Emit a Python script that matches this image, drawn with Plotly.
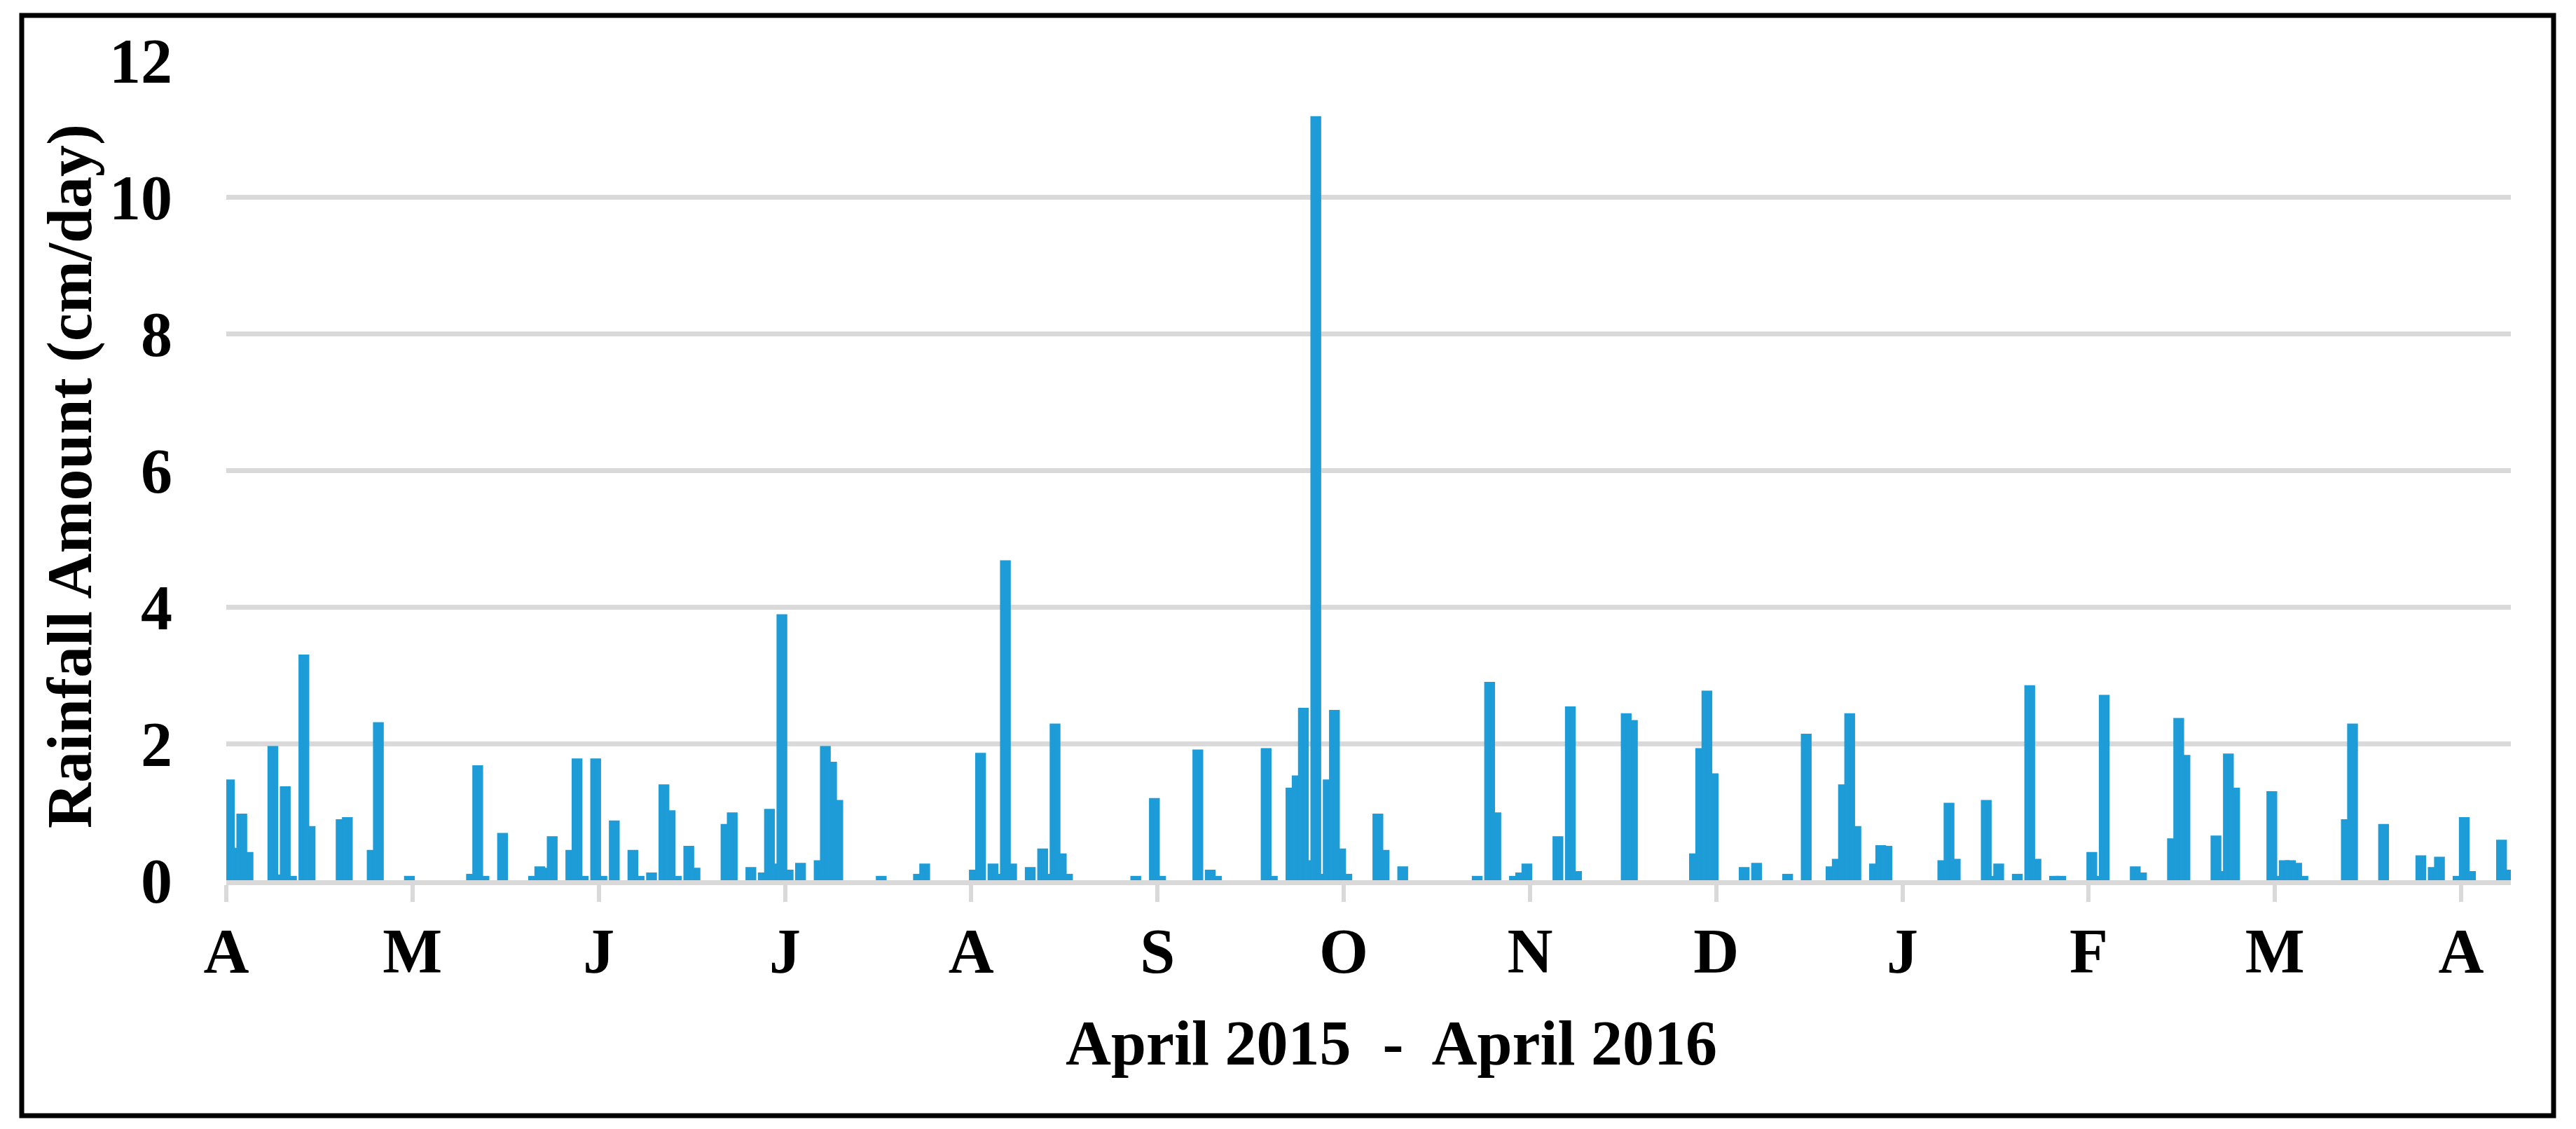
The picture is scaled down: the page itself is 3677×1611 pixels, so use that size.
import plotly.graph_objects as go

# ---- data ----
# day index counted from 1 April 2015 (368 daily slots), rainfall in cm/day
rain_days = [0, 1, 2, 3, 7, 8, 9, 10, 12, 13, 18, 19, 23, 24, 29, 39, 40, 41, 44, 49,
             50, 51, 52, 55, 56, 57, 59, 60, 62, 65, 66, 68, 70, 71, 72, 74, 75, 80, 81, 84,
             86, 87, 88, 89, 90, 92, 95, 96, 97, 98, 105, 111, 112, 120, 121, 123, 124, 125, 126, 129,
             131, 132, 133, 134, 135, 146, 149, 150, 156, 158, 159, 167, 168, 171, 172, 173, 174, 175, 176, 177,
             178, 179, 180, 185, 186, 189, 201, 203, 204, 207, 208, 209, 214, 216, 217, 225, 226, 236, 237, 238,
             239, 244, 246, 251, 254, 258, 259, 260, 261, 262, 265, 266, 267, 276, 277, 278, 283, 284, 285, 288,
             290, 291, 294, 295, 300, 301, 302, 307, 308, 313, 314, 315, 320, 321, 322, 323, 329, 330, 331, 332,
             333, 334, 341, 342, 347, 353, 355, 356, 359, 360, 361, 366, 367]
rain_cm = [1.44, 0.44, 0.94, 0.38, 1.93, 0.05, 1.34, 0.03, 3.27, 0.76, 0.86, 0.89, 0.41, 2.28, 0.03, 0.06, 1.65, 0.03, 0.66, 0.03,
           0.17, 0.15, 0.61, 0.41, 1.75, 0.03, 1.75, 0.03, 0.84, 0.41, 0.03, 0.08, 1.37, 0.99, 0.03, 0.47, 0.15, 0.79, 0.96, 0.16,
           0.08, 1.01, 0.21, 3.86, 0.12, 0.22, 0.26, 1.93, 1.70, 1.14, 0.03, 0.06, 0.21, 0.12, 1.83, 0.21, 0.06, 4.65, 0.21, 0.16,
           0.43, 0.06, 2.26, 0.36, 0.06, 0.03, 1.17, 0.03, 1.88, 0.12, 0.03, 1.90, 0.03, 1.32, 1.50, 2.49, 0.26, 11.15, 0.06, 1.44,
           2.46, 0.43, 0.06, 0.94, 0.41, 0.17, 0.03, 2.87, 0.96, 0.03, 0.08, 0.21, 0.61, 2.51, 0.10, 2.41, 2.31, 0.36, 1.90, 2.74,
           1.53, 0.16, 0.22, 0.06, 2.11, 0.17, 0.28, 1.37, 2.41, 0.76, 0.21, 0.48, 0.47, 0.26, 1.10, 0.28, 1.14, 0.03, 0.21, 0.06,
           2.82, 0.28, 0.03, 0.03, 0.38, 0.03, 2.68, 0.17, 0.08, 0.58, 2.34, 1.80, 0.62, 0.10, 1.82, 1.32, 1.27, 0.03, 0.26, 0.26,
           0.22, 0.03, 0.86, 2.26, 0.79, 0.33, 0.16, 0.31, 0.03, 0.89, 0.10, 0.56, 0.12]

n_days = 368
tick_every = 30
month_labels = ["A", "M", "J", "J", "A", "S", "O", "N", "D", "J", "F", "M", "A"]
y_ticks = [0, 2, 4, 6, 8, 10, 12]

BAR = "#1d9cd7"
GRID = "#d9d9d9"
FONT = dict(family="Liberation Serif", size=90, color="black", weight="bold")

W, H = 3677, 1611
L, R, T, B = 323, 93, 86, 355
pw, ph = W - L - R, H - T - B


def px_x(p):
    return (p - L) / pw


def px_y(p):
    return (H - B - p) / ph


fig = go.Figure()
fig.add_trace(go.Bar(
    x=rain_days, y=rain_cm, width=1.0,
    marker=dict(color=BAR, line=dict(color=BAR, width=6.5)),
    hoverinfo="x+y",
))

tickvals = [-0.5 + tick_every * k for k in range(len(month_labels))]

fig.update_layout(
    width=W, height=H,
    margin=dict(l=L, r=R, t=T, b=B, pad=0),
    paper_bgcolor="white", plot_bgcolor="white",
    showlegend=False,
    font=FONT,
    xaxis=dict(
        range=[-0.5, n_days - 0.5],
        tickmode="array", tickvals=tickvals, ticktext=month_labels,
        showgrid=False, zeroline=False,
        showline=True, linecolor=GRID, linewidth=7,
        ticks="outside", ticklen=24, tickwidth=6, tickcolor=GRID,
        ticklabelstandoff=-7,
        tickfont=FONT,
    ),
    yaxis=dict(
        range=[0, 12],
        tickmode="array", tickvals=y_ticks, ticktext=[str(v) for v in y_ticks],
        showgrid=True, gridcolor=GRID, gridwidth=7,
        zeroline=False, showline=False, ticks="",
        ticklabelstandoff=76,
        tickfont=FONT,
    ),
    annotations=[
        dict(text="Rainfall Amount (cm/day)", xref="paper", yref="paper",
             x=px_x(100), y=px_y(680), xanchor="center", yanchor="middle",
             textangle=-90, showarrow=False, font=FONT),
        dict(text="April 2015  -  April 2016", xref="paper", yref="paper",
             x=px_x(1986), y=px_y(1488), xanchor="center", yanchor="middle",
             showarrow=False, font=FONT),
    ],
    shapes=[
        dict(type="rect", xref="paper", yref="paper",
             x0=px_x(31), x1=px_x(3645), y0=px_y(1592), y1=px_y(22),
             line=dict(color="black", width=7), fillcolor="rgba(0,0,0,0)", layer="above"),
    ],
)

fig.write_html("out.html",
               config={"displayModeBar": False},
               post_script="document.body.style.margin='0';document.body.style.overflow='hidden';")
